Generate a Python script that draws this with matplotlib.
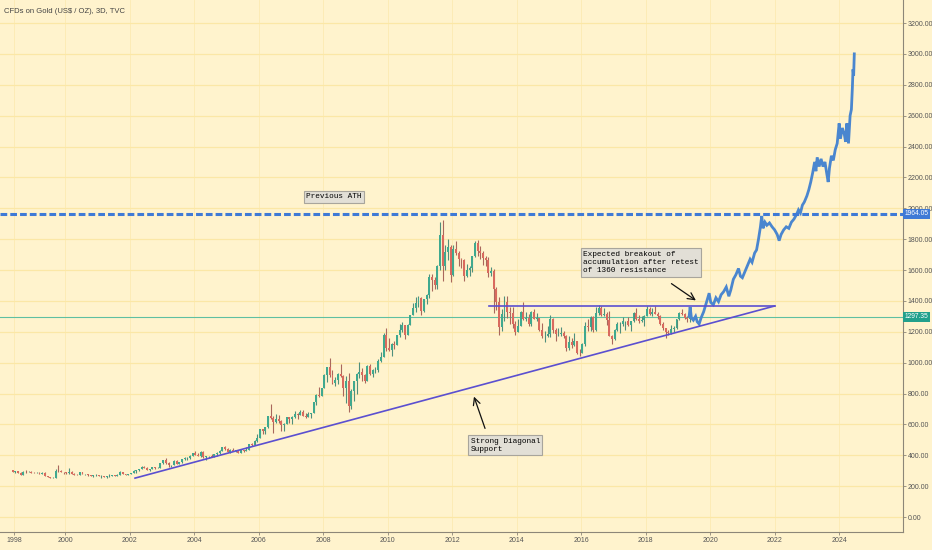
import numpy as np
import matplotlib
matplotlib.use("Agg")
import matplotlib.pyplot as plt
import matplotlib.transforms as mtransforms

# monthly gold candles, May 1998 .. May 2019
first_year, first_month = 1998, 5
gold_close = [
    294, 296, 288, 273, 294, 292, 294, 288,
    287, 287, 280, 286, 268, 261, 255, 255, 300, 298, 292, 290,
    284, 292, 278, 274, 272, 289, 277, 277, 273, 264, 270, 273,
    266, 267, 258, 263, 265, 271, 265, 273, 293, 279, 275, 279,
    282, 297, 302, 308, 326, 318, 304, 312, 324, 317, 318, 347,
    368, 348, 335, 337, 364, 346, 355, 375, 384, 385, 398, 415,
    401, 396, 424, 388, 394, 395, 391, 408, 416, 429, 453, 438,
    423, 434, 428, 435, 417, 436, 430, 433, 473, 469, 494, 513,
    569, 556, 582, 654, 643, 613, 633, 624, 599, 603, 646, 632,
    650, 665, 663, 681, 656, 650, 666, 672, 743, 789, 783, 834,
    923, 972, 917, 865, 886, 928, 912, 833, 880, 717, 815, 882,
    928, 942, 918, 883, 979, 927, 954, 955, 1008, 1039, 1182, 1096,
    1082, 1118, 1114, 1180, 1211, 1244, 1180, 1247, 1307, 1357, 1386, 1421,
    1333, 1410, 1439, 1556, 1536, 1501, 1628, 1826, 1624, 1716, 1746, 1566,
    1738, 1711, 1669, 1664, 1560, 1598, 1614, 1691, 1773, 1720, 1712, 1675,
    1664, 1578, 1596, 1476, 1393, 1234, 1313, 1396, 1327, 1323, 1250, 1201,
    1240, 1326, 1284, 1292, 1250, 1327, 1282, 1287, 1210, 1172, 1175, 1184,
    1283, 1213, 1183, 1184, 1190, 1172, 1095, 1133, 1115, 1142, 1064, 1060,
    1118, 1238, 1233, 1293, 1214, 1322, 1351, 1309, 1316, 1277, 1173, 1151,
    1211, 1249, 1249, 1268, 1268, 1242, 1269, 1321, 1280, 1271, 1275, 1303,
    1345, 1318, 1325, 1315, 1299, 1252, 1224, 1201, 1192, 1215, 1222, 1282,
    1321, 1313, 1292, 1284, 1305,
]
gold_high = [
    302, 300, 297, 290, 297, 302, 299, 296,
    293, 291, 290, 292, 290, 268, 262, 259, 310, 338, 303, 294,
    292, 316, 300, 287, 279, 292, 291, 279, 279, 274, 272, 277,
    272, 269, 268, 265, 277, 274, 270, 280, 296, 294, 281, 281,
    283, 303, 304, 310, 328, 330, 322, 314, 326, 325, 323, 349,
    372, 382, 355, 340, 372, 371, 359, 376, 390, 390, 400, 417,
    428, 414, 427, 427, 396, 398, 409, 410, 419, 431, 456, 457,
    444, 440, 447, 437, 432, 442, 432, 451, 476, 480, 498, 541,
    571, 573, 586, 654, 730, 652, 668, 664, 630, 610, 650, 649,
    656, 690, 674, 694, 694, 671, 683, 675, 746, 795, 845, 838,
    929, 975, 1032, 950, 904, 933, 988, 918, 912, 935, 830, 884,
    935, 1006, 964, 928, 984, 989, 961, 970, 1025, 1070, 1195, 1226,
    1162, 1125, 1143, 1181, 1249, 1265, 1245, 1250, 1310, 1388, 1424, 1431,
    1424, 1413, 1447, 1576, 1577, 1552, 1632, 1912, 1921, 1764, 1803, 1764,
    1763, 1791, 1720, 1680, 1669, 1640, 1625, 1694, 1788, 1796, 1755, 1726,
    1694, 1683, 1617, 1605, 1488, 1424, 1348, 1433, 1434, 1361, 1361, 1267,
    1280, 1336, 1392, 1331, 1315, 1332, 1345, 1324, 1292, 1256, 1206, 1239,
    1307, 1290, 1224, 1224, 1232, 1205, 1176, 1170, 1157, 1191, 1143, 1088,
    1128, 1263, 1283, 1304, 1303, 1362, 1375, 1367, 1352, 1326, 1337, 1180,
    1220, 1264, 1261, 1295, 1270, 1296, 1270, 1331, 1357, 1306, 1300, 1306,
    1366, 1361, 1356, 1365, 1326, 1309, 1262, 1224, 1214, 1243, 1237, 1284,
    1326, 1347, 1324, 1304, 1306,
]
gold_low = [
    290, 286, 286, 272, 273, 287, 289, 285,
    283, 282, 278, 278, 266, 257, 252, 251, 254, 290, 289, 280,
    280, 281, 276, 272, 270, 270, 276, 269, 268, 263, 262, 268,
    264, 255, 257, 255, 262, 264, 264, 264, 271, 277, 272, 272,
    277, 282, 287, 300, 308, 315, 302, 301, 310, 313, 315, 315,
    343, 345, 327, 322, 338, 343, 342, 352, 370, 368, 376, 398,
    400, 393, 391, 385, 371, 383, 387, 388, 398, 410, 427, 432,
    418, 412, 425, 420, 414, 414, 418, 430, 432, 463, 465, 488,
    515, 538, 536, 578, 637, 542, 608, 610, 560, 560, 601, 607,
    603, 644, 636, 660, 652, 640, 647, 642, 672, 725, 780, 781,
    834, 876, 905, 860, 849, 860, 910, 786, 740, 681, 700, 750,
    800, 901, 880, 865, 881, 920, 904, 932, 940, 1001, 1038, 1075,
    1075, 1045, 1086, 1114, 1163, 1197, 1155, 1178, 1242, 1313, 1330, 1360,
    1308, 1329, 1381, 1419, 1462, 1478, 1480, 1600, 1532, 1600, 1666, 1523,
    1563, 1696, 1628, 1612, 1527, 1555, 1563, 1588, 1687, 1693, 1671, 1635,
    1626, 1555, 1562, 1321, 1338, 1180, 1207, 1272, 1292, 1251, 1227, 1180,
    1203, 1238, 1277, 1268, 1240, 1240, 1280, 1272, 1206, 1160, 1131, 1167,
    1167, 1190, 1142, 1175, 1170, 1162, 1077, 1080, 1098, 1108, 1053, 1046,
    1061, 1111, 1208, 1208, 1199, 1207, 1310, 1302, 1303, 1241, 1171, 1123,
    1147, 1208, 1195, 1240, 1214, 1236, 1205, 1266, 1277, 1260, 1264, 1236,
    1302, 1307, 1303, 1314, 1282, 1245, 1211, 1160, 1180, 1183, 1196, 1221,
    1276, 1310, 1281, 1266, 1266,
]
first_open = 305

# hand-drawn projection (decimal year, price)
proj_year = [
    2019.35, 2019.38, 2019.42, 2019.48, 2019.55, 2019.60, 2019.66, 2019.72,
    2019.80, 2019.90, 2019.97, 2020.02, 2020.10, 2020.18, 2020.26, 2020.34,
    2020.42, 2020.50, 2020.58, 2020.64, 2020.72, 2020.80, 2020.88, 2020.94,
    2021.00, 2021.08, 2021.16, 2021.24, 2021.30, 2021.38, 2021.44, 2021.50,
    2021.56, 2021.60, 2021.64, 2021.70, 2021.76, 2021.84, 2021.92, 2022.00,
    2022.08, 2022.14, 2022.20, 2022.28, 2022.36, 2022.44, 2022.52, 2022.60,
    2022.68, 2022.74, 2022.80, 2022.86, 2022.92, 2023.00, 2023.06, 2023.12,
    2023.18, 2023.24, 2023.28, 2023.32, 2023.38, 2023.44, 2023.50, 2023.56,
    2023.62, 2023.66, 2023.70, 2023.76, 2023.82, 2023.88, 2023.94, 2024.00,
    2024.04, 2024.10, 2024.16, 2024.20, 2024.24, 2024.29, 2024.34, 2024.38,
    2024.41, 2024.43, 2024.45, 2024.47,
]
proj_price = [
    1300, 1360, 1290, 1275, 1300, 1265, 1250, 1290,
    1330, 1400, 1450, 1390, 1375, 1420, 1395, 1440,
    1460, 1490, 1430, 1470, 1540, 1570, 1610, 1560,
    1550, 1590, 1630, 1670, 1650, 1710, 1730, 1800,
    1880, 1950, 1870, 1910, 1890, 1905, 1880, 1860,
    1830, 1790, 1830, 1860, 1880, 1870, 1910, 1930,
    1960, 1990, 1970, 2020, 2040, 2080, 2120, 2170,
    2230, 2300, 2240, 2330, 2270, 2320, 2270, 2300,
    2220, 2170, 2260, 2340, 2310, 2380, 2420, 2550,
    2450, 2520, 2480, 2430, 2550, 2420, 2600, 2640,
    2780, 2900, 2860, 3000,
]

prev_ath = 1964.05
last_price = 1297.35
diag_support = ([2002.17, 2022.0], [252, 1367])
resistance = ([2013.13, 2022.0], [1365, 1365])

year_ticks = [1998, 2000, 2002, 2004, 2006, 2008, 2010, 2012, 2014, 2016, 2018, 2020, 2022, 2024]
price_ticks = list(range(0, 3201, 200))

bg = "#fff3cd"
grid_c = "#fbe7a6"
label_font = ["Liberation Sans", "DejaVu Sans"]
mono_font = ["Liberation Mono", "DejaVu Sans Mono"]

fig = plt.figure(figsize=(9.32, 5.5), dpi=100, facecolor=bg)
ax = fig.add_axes([0.0, 18 / 550, 903 / 932, 532 / 550])
ax.set_facecolor(bg)
ax.set_xlim(1997.984, 2025.98)
ax.set_ylim(-97, 3349)

# grid
for p in price_ticks:
    ax.axhline(p, color=grid_c, lw=0.9, zorder=0)
tick_pos = [1998.42] + year_ticks[1:]
for t in tick_pos:
    ax.axvline(t, color=grid_c, lw=0.6, zorder=0, alpha=0.7)

# candles
n = len(gold_close)
x = np.array([first_year + (first_month - 1 + i + 0.5) / 12 for i in range(n)])
c = np.array(gold_close, float)
o = np.concatenate([[first_open], c[:-1]])
h = np.maximum(np.array(gold_high, float), np.maximum(o, c))
l = np.minimum(np.array(gold_low, float), np.minimum(o, c))
up = c >= o
ax.vlines(x, l, h, colors=np.where(up, "#4f8f7c", "#a9675c"), lw=0.8, zorder=2)
ax.bar(x, np.abs(c - o), bottom=np.minimum(o, c), width=0.06,
       color=np.where(up, "#3fa98f", "#d96a5e"), linewidth=0, zorder=3)

# projection
ax.plot(proj_year, proj_price, color="#4a86cf", lw=2.0, zorder=4, solid_joinstyle="miter")

# levels & trendlines
ax.axhline(prev_ath, color="#3f7ad6", lw=2.2, ls=(0, (2.2, 1.0)), zorder=5)
ax.axhline(last_price, color="#5fbfa2", lw=0.8, zorder=1)
ax.plot(*diag_support, color="#5b4fd0", lw=1.2, zorder=5)
ax.plot(*resistance, color="#5b4fd0", lw=1.2, zorder=5)

# annotations
box = dict(boxstyle="square,pad=0.3", facecolor="#e2dfd6", edgecolor="#a8a59c", lw=0.8)
ax.text(2007.47, 2073, "Previous ATH", family=mono_font, fontsize=5.6,
        va="center", ha="left", bbox=box, zorder=6)
ax.text(2016.07, 1725, "Expected breakout of\naccumulation after retest\nof 1360 resistance",
        family=mono_font, fontsize=5.6, va="top", ha="left", linespacing=1.25, bbox=box, zorder=6)
ax.text(2012.58, 515, "Strong Diagonal\nSupport", family=mono_font, fontsize=5.6,
        va="top", ha="left", linespacing=1.25, bbox=box, zorder=6)
arrow = dict(arrowstyle="->,head_length=0.5,head_width=0.25", color="#111111", lw=0.9)
ax.annotate("", xy=(2019.63, 1393), xytext=(2018.73, 1522), arrowprops=arrow, zorder=6)
ax.annotate("", xy=(2012.65, 797), xytext=(2013.05, 557), arrowprops=arrow, zorder=6)

# axes styling
for s in ["top", "left"]:
    ax.spines[s].set_visible(False)
for s in ["right", "bottom"]:
    ax.spines[s].set_color("#8d8678")
    ax.spines[s].set_linewidth(0.8)
ax.yaxis.tick_right()
ax.set_yticks(price_ticks)
ax.set_yticklabels([f"{p:.2f}" for p in price_ticks])
ax.set_xticks(tick_pos)
ax.set_xticklabels([str(y) for y in year_ticks])
ax.tick_params(axis="both", colors="#8d8678", labelcolor="#555555", labelsize=5, length=2, width=0.6, pad=1.5)
for lab in ax.get_xticklabels() + ax.get_yticklabels():
    lab.set_family(label_font)

# price tags on the right axis
trans = mtransforms.blended_transform_factory(ax.transAxes, ax.transData)
ax.text(1.002, prev_ath, f"{prev_ath:.2f}", transform=trans, family=label_font, fontsize=4.8,
        color="white", va="center", ha="left", clip_on=False, zorder=7,
        bbox=dict(boxstyle="square,pad=0.25", facecolor="#3f7ad6", edgecolor="none"))
ax.text(1.002, last_price, f"{last_price:.2f}", transform=trans, family=label_font, fontsize=4.8,
        color="white", va="center", ha="left", clip_on=False, zorder=7,
        bbox=dict(boxstyle="square,pad=0.25", facecolor="#22a08c", edgecolor="none"))

ax.text(0.004, 0.978, "CFDs on Gold (US$ / OZ), 3D, TVC", transform=ax.transAxes,
        family=label_font, fontsize=5.5, color="#444444", va="center", ha="left")

fig.savefig("out.png", dpi=100, facecolor=bg)
